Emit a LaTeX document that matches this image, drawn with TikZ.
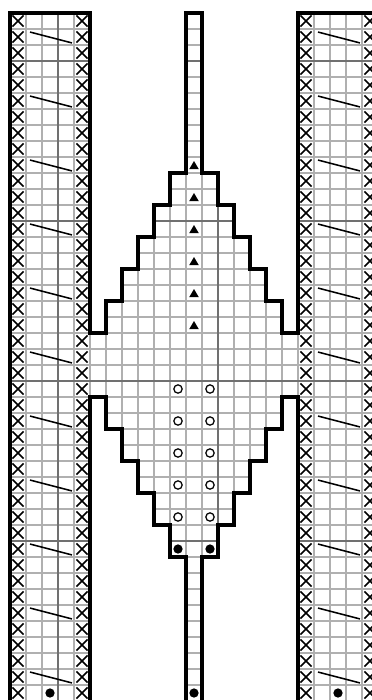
\documentclass[tikz,border=0pt]{standalone}
\usepackage{tikz}
\usetikzlibrary{calc}
\usepackage{xcolor}
\definecolor{gridgrey}{HTML}{b0b0b0}
\definecolor{tengrey}{HTML}{707070}
\definecolor{inkblack}{HTML}{000000}
\tikzset{
  gridline/.style={draw=gridgrey, line width=0.8pt},
  tenline/.style={draw=tengrey, line width=1.2pt},
  chartborder/.style={draw=inkblack, line width=2.5pt, line join=miter},
  purlst/.style={draw=inkblack, line width=1.2pt},
  cablest/.style={draw=inkblack, line width=1.1pt},
  bobblest/.style={fill=inkblack},
  yarnoverst/.style={draw=inkblack, line width=0.9pt},
  dotst/.style={fill=inkblack},
}
\begin{document}
\begin{tikzpicture}[x=0.4cm, y=0.4cm]
  \useasboundingbox (-0.625,0.8125) rectangle (22.625,-42.9375);
  \def\chartshape{(0,0) -- (5,0) -- (5,-20) -- (6,-20) -- (6,-18) -- (7,-18) -- (7,-16)
    -- (8,-16) -- (8,-14) -- (9,-14) -- (9,-12) -- (10,-12) -- (10,-10) -- (11,-10)
    -- (11,0) -- (12,0) -- (12,-10) -- (13,-10) -- (13,-12) -- (14,-12) -- (14,-14)
    -- (15,-14) -- (15,-16) -- (16,-16) -- (16,-18) -- (17,-18) -- (17,-20) -- (18,-20)
    -- (18,0) -- (23,0) -- (23,-44) -- (18,-44) -- (18,-24) -- (17,-24) -- (17,-26)
    -- (16,-26) -- (16,-28) -- (15,-28) -- (15,-30) -- (14,-30) -- (14,-32) -- (13,-32)
    -- (13,-34) -- (12,-34) -- (12,-44) -- (11,-44) -- (11,-34) -- (10,-34) -- (10,-32)
    -- (9,-32) -- (9,-30) -- (8,-30) -- (8,-28) -- (7,-28) -- (7,-26) -- (6,-26)
    -- (6,-24) -- (5,-24) -- (5,-44) -- (0,-44) -- cycle}

  % grid
  \begin{scope}
    \clip \chartshape;
    \draw[gridline, step=0.4cm] (0,-44) grid (23,0);
    \foreach \c in {3,13,23} \draw[tenline] (\c,0) -- (\c,-44);
    \foreach \r in {3,13,23,33,43} \draw[tenline] (0,-\r) -- (23,-\r);
  \end{scope}

  % edge stitches
  \foreach \c in {0,4,18,22}
    \foreach \r in {0,...,43}
      \draw[purlst] (\c+0.15,-\r-0.15) -- (\c+0.85,-\r-0.85)
                    (\c+0.15,-\r-0.85) -- (\c+0.85,-\r-0.15);

  % cables
  \foreach \c in {1,19}
    \foreach \r in {1,5,...,41}
      \draw[cablest] (\c+0.25,-\r-0.19) -- (\c+2.87,-\r-0.87);

  % bobbles
  \foreach \r in {9,11,...,19}
    \fill[bobblest] (11.5,-\r-0.25) -- (11.8,-\r-0.76) -- (11.2,-\r-0.76) -- cycle;

  % yarn overs
  \foreach \r in {23,25,...,31}
    \foreach \c in {10,12}
      \draw[yarnoverst] (\c+0.5,-\r-0.5) circle (0.26);

  % dots
  \foreach \c/\r in {10/33,12/33,2/42,11/42,20/42}
    \fill[dotst] (\c+0.5,-\r-0.5) circle (0.29);

  \draw[chartborder] \chartshape;
\end{tikzpicture}
\end{document}
